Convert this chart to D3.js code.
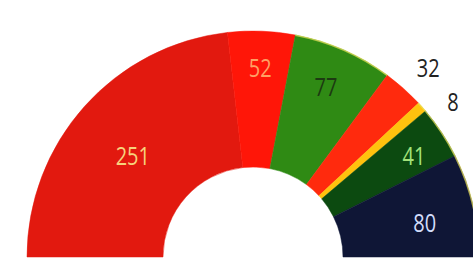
<!DOCTYPE html>
<html>
<head>
<meta charset="utf-8">
<script src="https://cdn.jsdelivr.net/npm/d3@7"></script>
<style>
  html, body { margin: 0; padding: 0; background: #fff; }
  svg { display: block; }
  text { font-family: "Open Sans", "DejaVu Sans", sans-serif; }
</style>
</head>
<body>
<svg id="chart" width="473" height="260"></svg>
<script>
// Data
const parties = ["A", "B", "C", "D", "E", "F", "G"];
const seats = [251, 52, 77, 32, 8, 41, 80];
const colors = ["#e2190f", "#ff1608", "#2f8a14", "#ff2a0d", "#ffc20e", "#0c4a10", "#0f1636"];
const labelColors = ["#f7d27c", "#ffa064", "#1d3a12", "#222222", "#222222", "#a3e27a", "#d2ddfb"];

// Label placement (layout, not data)
const labelRadius = [157, 190, 185, 258, 253, 190, 175];
const labelAngleShift = [-1.7, 0, -0.4, 1.0, 3.8, 1.3, 2.1]; // degrees

const svg = d3.select("#chart");
const cx = 253, cy = 257, R = 226, r0 = 90;

const pie = d3.pie().sort(null).value(d => d)
  .startAngle(-Math.PI / 2).endAngle(Math.PI / 2);
const arcs = pie(seats);

const arc = d3.arc().innerRadius(r0).outerRadius(R);

const g = svg.append("g").attr("transform", `translate(${cx},${cy})`);

g.selectAll("path.slice")
  .data(arcs)
  .join("path")
  .attr("class", "slice")
  .attr("d", arc)
  .attr("fill", (d, i) => colors[i])
  .attr("stroke", (d, i) => colors[i])
  .attr("stroke-width", 0.5);

// thin yellow rim on outer edge of some slices (as in reference print)
const rim = d3.arc().innerRadius(R - 1).outerRadius(R + 0.5);
g.selectAll("path.rim")
  .data(arcs.filter((d, i) => i >= 2 && i !== 3))
  .join("path")
  .attr("class", "rim")
  .attr("d", rim)
  .attr("fill", "#e8e05a")
  .attr("opacity", 0.7);

function labelPos(d, i) {
  const a = (d.startAngle + d.endAngle) / 2 + labelAngleShift[i] * Math.PI / 180;
  return [labelRadius[i] * Math.sin(a), -labelRadius[i] * Math.cos(a)];
}

g.selectAll("text.lbl")
  .data(arcs)
  .join("text")
  .attr("class", "lbl")
  .attr("transform", (d, i) => {
    const [x, y] = labelPos(d, i);
    return `translate(${x},${y}) scale(0.8,1)`;
  })
  .attr("text-anchor", "middle")
  .attr("dominant-baseline", "central")
  .attr("font-size", 25)
  .attr("fill", (d, i) => labelColors[i])
  .text(d => d.data);
</script>
</body>
</html>
